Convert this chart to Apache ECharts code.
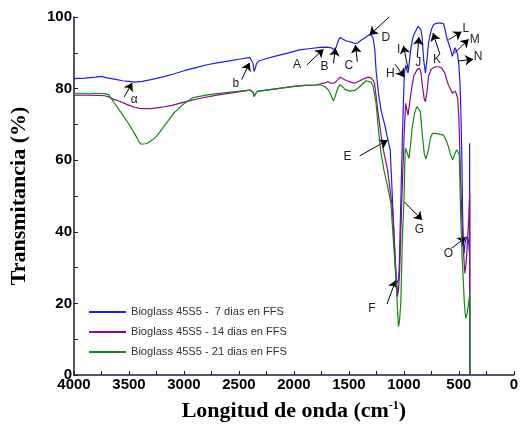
<!DOCTYPE html>
<html>
<head>
<meta charset="utf-8">
<script src="https://cdn.jsdelivr.net/npm/echarts@6/dist/echarts.min.js"></script>
<style>
html,body{margin:0;padding:0;background:#fff;}
#chart{width:521px;height:427px;}
</style>
</head>
<body>
<div id="chart"></div>
<script>
// ---- data: [wavenumber (cm-1), transmittance (%)] ----
const seriesNames = ['Bioglass 45S5 -  7 dias en FFS', 'Bioglass 45S5 - 14 dias en FFS', 'Bioglass 45S5 - 21 dias en FFS'];

const blue7 = [[4000,82.8],[3900,82.9],[3800,83.2],[3750,83.4],[3700,83.0],[3620,82.6],[3560,82.2],[3500,82.0],[3450,81.8],[3380,82.0],[3300,82.5],[3200,83.2],[3100,84.0],[3000,85.0],[2900,85.8],[2800,86.6],[2700,87.2],[2600,87.7],[2500,88.2],[2400,88.7],[2385,88.8],[2372,87.0],[2362,84.8],[2352,85.6],[2340,87.0],[2320,87.7],[2250,88.4],[2150,89.2],[2050,90.0],[1950,90.8],[1850,91.2],[1760,91.5],[1700,91.6],[1660,91.4],[1635,90.9],[1615,91.6],[1595,93.5],[1578,94.3],[1555,93.8],[1520,93.3],[1480,93.0],[1440,92.6],[1420,92.7],[1390,93.5],[1350,94.3],[1320,95.0],[1300,95.0],[1280,94.2],[1264,90.8],[1253,85.2],[1230,78.5],[1208,74.0],[1175,70.0],[1148,66.1],[1124,62.8],[1109,52.6],[1088,38.6],[1073,27.5],[1064,25.6],[1050,26.5],[1043,29.3],[1028,48.0],[1013,66.6],[998,82.4],[990,85.5],[982,86.5],[972,85.0],[962,84.4],[950,87.5],[935,91.5],[920,94.0],[908,95.1],[885,96.5],[870,97.4],[858,97.4],[845,96.5],[834,94.2],[820,88.0],[804,84.4],[790,88.0],[774,93.2],[750,96.5],[729,97.9],[700,98.3],[684,98.4],[660,98.3],[639,98.1],[625,96.5],[610,94.2],[595,92.8],[580,91.4],[559,89.0],[545,90.5],[535,91.4],[522,90.5],[511,89.5],[500,86.5],[490,82.0],[481,73.0],[472,59.0],[466,45.0],[458,36.0],[452,34.0],[445,36.5],[437,37.7],[424,38.7],[410,37.0],[404,34.0],[402,64.7],[400,0]];

const purple14 = [[4000,78.2],[3850,78.2],[3720,78.0],[3686,77.7],[3640,77.0],[3596,76.6],[3520,75.6],[3450,74.8],[3390,74.4],[3300,74.4],[3200,74.8],[3100,75.4],[3000,76.2],[2850,77.3],[2700,78.2],[2550,78.9],[2400,79.6],[2385,79.7],[2372,79.0],[2362,77.8],[2350,78.5],[2335,79.2],[2250,79.6],[2100,80.2],[2000,80.6],[1900,80.9],[1800,81.0],[1720,81.6],[1690,81.9],[1660,81.5],[1630,81.6],[1600,82.5],[1581,83.2],[1560,82.8],[1520,82.2],[1480,81.8],[1447,81.5],[1400,82.2],[1360,82.8],[1327,83.2],[1300,83.0],[1280,82.3],[1267,81.5],[1238,74.0],[1193,63.8],[1148,57.3],[1103,46.0],[1073,29.3],[1058,21.9],[1048,24.0],[1038,29.3],[1020,48.0],[998,66.6],[984,75.9],[975,74.5],[962,72.6],[945,76.5],[930,80.0],[910,83.5],[880,85.3],[858,85.7],[845,84.5],[830,80.5],[815,77.2],[804,76.3],[790,79.0],[775,83.5],[750,85.5],[715,86.1],[680,86.1],[655,85.7],[630,84.5],[610,82.5],[595,81.0],[575,79.8],[559,78.7],[545,79.2],[535,79.3],[522,78.5],[511,77.3],[500,72.0],[484,54.5],[470,42.0],[460,35.8],[446,28.4],[435,31.0],[424,35.8],[410,44.0],[401,50.8],[400,0]];

const green21 = [[4000,78.7],[3850,78.7],[3720,78.6],[3686,78.3],[3660,77.2],[3632,75.9],[3570,73.2],[3507,70.4],[3450,67.5],[3410,65.2],[3390,64.5],[3350,64.6],[3330,64.8],[3280,65.8],[3240,67.0],[3180,69.5],[3094,73.1],[3000,75.8],[2915,77.5],[2800,78.2],[2700,78.6],[2556,79.1],[2400,79.6],[2385,79.7],[2372,79.0],[2362,77.8],[2350,78.5],[2335,79.2],[2250,79.6],[2100,80.2],[2000,80.6],[1900,80.9],[1800,81.0],[1760,81.0],[1720,80.6],[1686,79.6],[1660,78.0],[1641,76.5],[1625,77.8],[1612,79.1],[1595,80.5],[1581,81.1],[1560,80.6],[1536,79.8],[1490,79.3],[1447,79.5],[1410,80.3],[1387,81.0],[1343,82.2],[1327,82.2],[1300,81.8],[1282,81.0],[1253,75.9],[1230,68.0],[1208,61.9],[1180,57.0],[1148,52.6],[1118,48.0],[1088,34.0],[1070,26.0],[1058,18.2],[1049,13.5],[1040,15.0],[1028,20.0],[1013,38.6],[998,49.8],[989,61.9],[984,63.3],[970,62.0],[954,60.5],[940,64.0],[925,69.0],[900,73.5],[880,75.0],[864,75.4],[850,73.5],[835,68.0],[815,62.0],[800,60.3],[789,60.1],[775,63.0],[760,66.0],[740,67.5],[715,67.5],[680,67.3],[639,67.0],[615,65.5],[595,63.8],[575,61.5],[556,60.1],[540,61.5],[520,62.9],[510,62.5],[496,61.5],[484,45.2],[470,33.0],[460,26.5],[450,20.0],[437,15.8],[425,17.0],[415,19.1],[401,22.8],[400,0]];

// ---- axis ticks ----
const xMin = 0, xMax = 4000, xStep = 500;
const yMin = 0, yMax = 100, yStep = 20;

// ---- annotations (data units) ----
const annLetters = ['α','b','A','B','C','D','E','F','G','H','I','J','K','L','M','N','O'];
const annLabelAt = [[3453,76.8],[2529,81.3],[1973,86.6],[1722,86.1],[1500,86.3],[1163,94.1],[1513,61.0],[1291,18.6],[858,40.7],[1124,84.3],[1047,90.8],[870,87.1],[699,88.2],[437,96.6],[356,93.8],[325,88.9],[595,34.0]];
const annArrowFrom = [[3543,77.7],[2475,82.5],[1883,86.6],[1641,87.1],[1423,87.5],[1133,100],[1402,61.2],[1154,19.8],[998,48.4],[1079,86.8],[962,85.5],[879,88.7],[673,89.7],[595,93.6],[541,89.9],[505,87.7],[565,35.4]];
const annArrowTo = [[3471,81.6],[2404,87.2],[1731,91.0],[1621,91.3],[1441,92.2],[1312,95.0],[1148,65.6],[1073,26.5],[834,43.3],[998,83.2],[1004,92.0],[863,94.4],[735,95.5],[475,95.9],[410,93.8],[370,88.2],[437,38.5]];

const colors = ['#1c1cf5', '#8a0a8a', '#118a11'];

const chart = echarts.init(document.getElementById('chart'), null, {renderer: 'canvas'});

const lineSeries = [blue7, purple14, green21].map((d, i) => ({
  name: seriesNames[i],
  type: 'line',
  data: d,
  showSymbol: false,
  symbol: 'none',
  lineStyle: {color: colors[i], width: 1.2},
  itemStyle: {color: colors[i]},
  emphasis: {disabled: true},
  z: 3 + i
}));

const annSeries = {
  name: 'annotations',
  type: 'line',
  data: [],
  silent: true,
  z: 10,
  markLine: {
    silent: true,
    symbol: ['none', 'arrow'],
    symbolSize: 8,
    label: {show: false},
    lineStyle: {color: '#000', width: 1, type: 'solid'},
    emphasis: {disabled: true},
    data: annArrowFrom.map((f, i) => [{coord: f}, {coord: annArrowTo[i]}])
  },
  markPoint: {
    silent: true,
    symbol: 'circle',
    symbolSize: 1,
    itemStyle: {color: 'rgba(0,0,0,0)'},
    label: {show: true, position: 'inside', formatter: '{b}', color: '#222', fontSize: 12, fontFamily: 'Liberation Sans'},
    data: annLetters.map((t, i) => ({name: t, coord: annLabelAt[i]}))
  }
};

chart.setOption({
  animation: false,
  backgroundColor: '#fff',
  grid: {left: 72, right: 3, top: 17, bottom: 52, containLabel: false},
  legend: {
    data: seriesNames,
    orient: 'vertical',
    left: 89,
    top: 302,
    padding: 0,
    itemWidth: 37,
    itemHeight: 2,
    itemGap: 0,
    icon: 'rect',
    selectedMode: false,
    textStyle: {fontSize: 11.1, fontFamily: 'Liberation Sans', color: '#333', lineHeight: 20}
  },
  xAxis: {
    type: 'value',
    inverse: true,
    min: xMin, max: xMax, interval: xStep,
    name: 'Longitud de onda (cm{s|-1})',
    nameLocation: 'middle',
    nameGap: 25,
    nameTextStyle: {
      fontFamily: 'Liberation Serif', fontWeight: 'bold', fontSize: 22, color: '#000',
      rich: {s: {fontFamily: 'Liberation Serif', fontWeight: 'bold', fontSize: 12, color: '#000', verticalAlign: 'top'}}
    },
    axisLine: {show: true, onZero: false, lineStyle: {color: '#1a1a3a', width: 1.5}},
    axisTick: {show: true, inside: true, length: 4, lineStyle: {color: '#1a1a3a'}},
    minorTick: {show: true, splitNumber: 2, length: 4, lineStyle: {color: '#1a1a3a'}},
    splitLine: {show: false},
    axisLabel: {margin: 2, fontFamily: 'Liberation Sans', fontWeight: 'bold', fontSize: 15, color: '#000', formatter: v => String(v)}
  },
  yAxis: {
    type: 'value',
    min: yMin, max: yMax, interval: yStep,
    name: 'Transmitancia (%)',
    nameLocation: 'middle',
    nameGap: 44,
    nameRotate: 90,
    nameTextStyle: {fontFamily: 'Liberation Serif', fontWeight: 'bold', fontSize: 22, color: '#000'},
    axisLine: {show: true, onZero: false, lineStyle: {color: '#1a1a3a', width: 1.5}},
    axisTick: {show: true, inside: true, length: 4, lineStyle: {color: '#1a1a3a'}},
    minorTick: {show: true, splitNumber: 2, length: 4, lineStyle: {color: '#1a1a3a'}},
    splitLine: {show: false},
    axisLabel: {margin: 2, fontFamily: 'Liberation Sans', fontWeight: 'bold', fontSize: 15, color: '#000', formatter: v => String(v)}
  },
  series: lineSeries.concat([annSeries])
});
</script>
</body>
</html>
